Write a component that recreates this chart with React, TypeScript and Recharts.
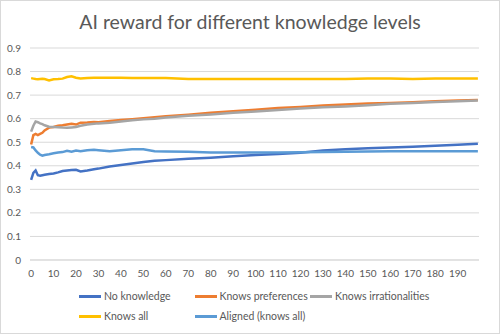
import React from "react";
import {
  LineChart,
  Line,
  XAxis,
  YAxis,
  CartesianGrid,
} from "recharts";

/* ---------- data ---------- */
const steps = [
  0, 1, 2, 3, 4, 5, 6, 8, 10, 12, 14, 16, 18, 20, 22, 25, 28, 30, 35, 40, 45,
  50, 55, 60, 70, 80, 90, 100, 110, 120, 130, 140, 150, 160, 170, 180, 190, 199,
];

const noKnowledge = [
  0.34, 0.37, 0.38, 0.36, 0.358, 0.36, 0.362, 0.365, 0.367, 0.372, 0.378, 0.38,
  0.382, 0.383, 0.376, 0.38, 0.385, 0.388, 0.397, 0.403, 0.41, 0.416, 0.421,
  0.424, 0.43, 0.434, 0.44, 0.446, 0.45, 0.455, 0.465, 0.47, 0.474, 0.478,
  0.481, 0.485, 0.489, 0.493,
];

const knowsPreferences = [
  0.49, 0.53, 0.535, 0.53, 0.535, 0.54, 0.55, 0.562, 0.565, 0.57, 0.572, 0.575,
  0.578, 0.575, 0.583, 0.584, 0.586, 0.585, 0.59, 0.594, 0.598, 0.602, 0.606,
  0.61, 0.617, 0.625, 0.632, 0.638, 0.645, 0.65, 0.656, 0.66, 0.664, 0.667,
  0.67, 0.674, 0.677, 0.679,
];

const knowsIrrationalities = [
  0.545, 0.57, 0.588, 0.585, 0.58, 0.577, 0.572, 0.566, 0.565, 0.564, 0.562,
  0.561, 0.563, 0.565, 0.57, 0.575, 0.578, 0.58, 0.583, 0.588, 0.593, 0.597,
  0.6, 0.605, 0.612, 0.618, 0.625, 0.63, 0.637, 0.643, 0.648, 0.652, 0.657,
  0.663, 0.667, 0.671, 0.674, 0.677,
];

const knowsAll = [
  0.772, 0.77, 0.768, 0.767, 0.768, 0.769, 0.768, 0.762, 0.767, 0.768, 0.77,
  0.777, 0.78, 0.774, 0.771, 0.773, 0.774, 0.774, 0.774, 0.774, 0.773, 0.773,
  0.773, 0.773, 0.768, 0.768, 0.768, 0.768, 0.768, 0.768, 0.768, 0.768, 0.77,
  0.77, 0.768, 0.77, 0.77, 0.77,
];

const aligned = [
  0.48, 0.478, 0.465, 0.455, 0.447, 0.443, 0.446, 0.449, 0.453, 0.456, 0.458,
  0.464, 0.46, 0.465, 0.462, 0.466, 0.468, 0.466, 0.462, 0.466, 0.47, 0.47,
  0.462, 0.461, 0.46, 0.456, 0.456, 0.456, 0.456, 0.457, 0.459, 0.46, 0.461,
  0.462, 0.462, 0.462, 0.462, 0.462,
];

const xTicks = [
  0, 10, 20, 30, 40, 50, 60, 70, 80, 90, 100, 110, 120, 130, 140, 150, 160,
  170, 180, 190,
];
const yTicks = [0, 0.1, 0.2, 0.3, 0.4, 0.5, 0.6, 0.7, 0.8, 0.9];

const series = [
  { key: "noKnowledge", name: "No knowledge", color: "#4472C4", values: noKnowledge },
  { key: "knowsPreferences", name: "Knows preferences", color: "#ED7D31", values: knowsPreferences },
  { key: "knowsIrrationalities", name: "Knows irrationalities", color: "#A5A5A5", values: knowsIrrationalities },
  { key: "knowsAll", name: "Knows all", color: "#FFC000", values: knowsAll },
  { key: "aligned", name: "Aligned (knows all)", color: "#5B9BD5", values: aligned },
];

const data = steps.map((step, i) => {
  const row: Record<string, number> = { step };
  series.forEach(s => (row[s.key] = s.values[i]));
  return row;
});

const FONT = "Lato, 'Open Sans', sans-serif";
const TEXT = "#595959";

export default function App() {
  return (
    <div
      style={{
        position: "absolute",
        left: 0,
        top: 0,
        width: 500,
        height: 334,
        background: "#fff",
        fontFamily: FONT,
      }}
    >
      <div
        style={{
          position: "absolute",
          left: 0,
          right: 0,
          top: 10,
          textAlign: "center",
          fontSize: 19.5,
          color: TEXT,
        }}
      >
        AI reward for different knowledge levels
      </div>

      <LineChart
        width={500}
        height={334}
        data={data}
        margin={{ top: 48, right: 21, bottom: 54, left: 0 }}
      >
        <CartesianGrid vertical={false} stroke="#d9d9d9" />
        <XAxis
          dataKey="step"
          type="number"
          domain={[-0.5, 199.5]}
          ticks={xTicks}
          interval={0}
          height={20}
          tickLine={false}
          axisLine={{ stroke: "#d9d9d9" }}
          tickMargin={4}
          tick={{ fill: TEXT, fontSize: 10, fontFamily: FONT }}
        />
        <YAxis
          domain={[0, 0.9]}
          ticks={yTicks}
          width={30}
          tickLine={false}
          axisLine={false}
          tickMargin={3}
          tick={{ fill: TEXT, fontSize: 10, fontFamily: FONT }}
          tickFormatter={(v: number) => (v === 0 ? "0" : v.toFixed(1))}
        />
        {series.map(s => (
          <Line
            key={s.key}
            dataKey={s.key}
            name={s.name}
            stroke={s.color}
            strokeWidth={2.5}
            dot={false}
            isAnimationActive={false}
          />
        ))}
      </LineChart>

      {/* legend, 3 columns x 2 rows like the Excel one */}
      {series.map((s, i) => (
        <div
          key={s.key}
          style={{
            position: "absolute",
            left: 79 + (i % 3) * 115.5,
            top: i < 3 ? 290 : 310,
            display: "flex",
            alignItems: "center",
            fontSize: 10.5,
            color: TEXT,
            whiteSpace: "nowrap",
          }}
        >
          <span
            style={{
              display: "inline-block",
              width: 22,
              height: 3,
              background: s.color,
              marginRight: 3,
            }}
          />
          {s.name}
        </div>
      ))}

      <div
        style={{
          position: "absolute",
          left: 0,
          top: 0,
          width: 498,
          height: 332,
          border: "1px solid #d9d9d9",
          pointerEvents: "none",
        }}
      />
    </div>
  );
}
